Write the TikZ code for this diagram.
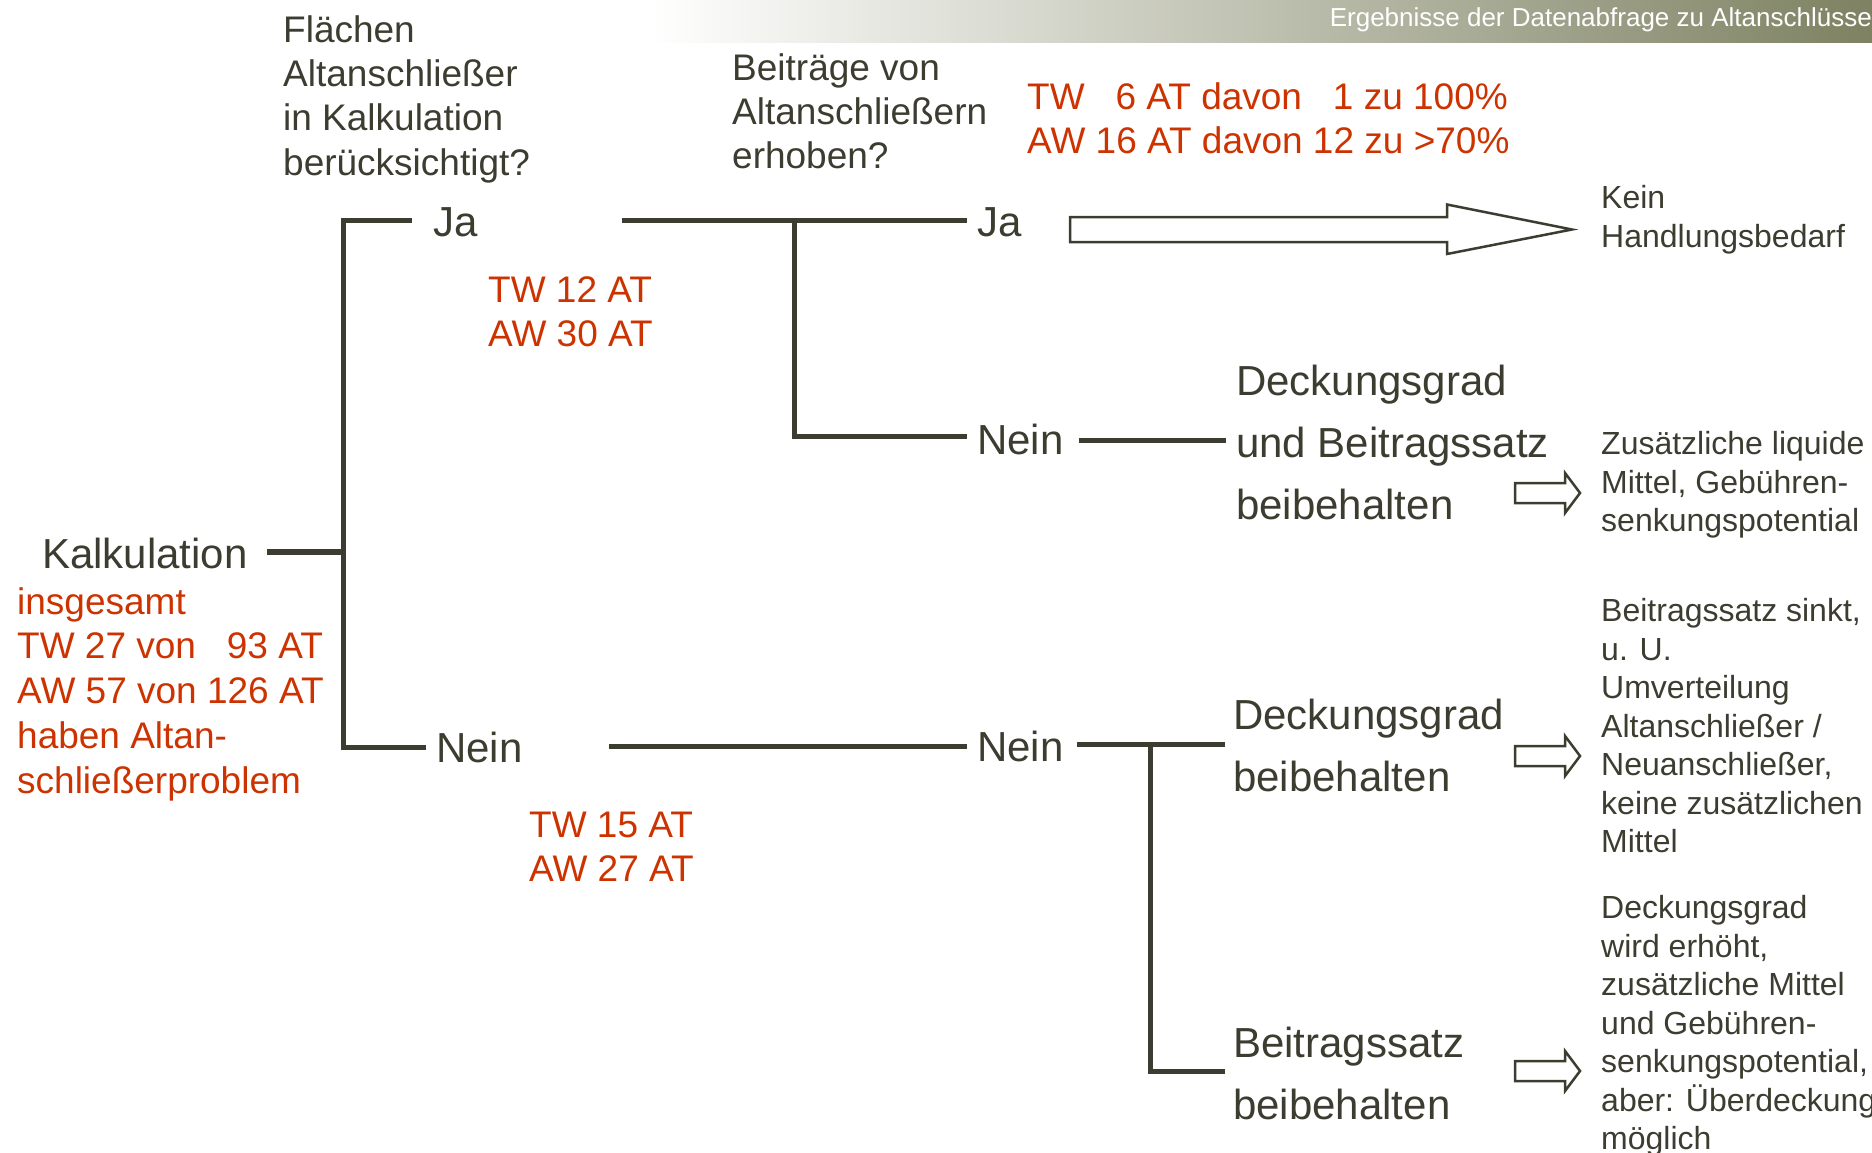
\documentclass[tikz,border=0pt]{standalone}
\usepackage{fontspec}
\setmainfont{Liberation Sans}
\definecolor{ink}{RGB}{60,60,48}
\definecolor{hot}{RGB}{204,51,0}
\definecolor{band}{RGB}{126,130,98}
\tikzset{
    txt/.style={text=ink, inner sep=0pt, align=left},
    big/.style={txt, font=\fontsize{42}{62}\selectfont},
    ask/.style={txt, font=\fontsize{37}{44.4}\selectfont},
    note/.style={txt, font=\fontsize{32}{38.5}\selectfont},
    num/.style={txt, text=hot, font=\fontsize{37}{44.5}\selectfont},
    wire/.style={draw=ink, line width=5pt},
    hollow/.style={draw=ink, line width=2.5pt, fill=white},
}
\begin{document}
\begin{tikzpicture}[x=1pt, y=-1pt]
    \useasboundingbox (0,0) rectangle (1872,1152);
    \shade[left color=white, right color=band] (650,0) rectangle (1872,42);
    \node[anchor=base east, inner sep=0pt, text=white, font=\fontsize{26}{30}\selectfont] (title) at (1872,26) {Ergebnisse der Datenabfrage zu Altanschlüsse};

    \node[ask, anchor=base west] (q1) at (283,175.2) {Flächen\\Altanschließer\\in Kalkulation\\berücksichtigt?};
    \node[ask, anchor=base west] (q2) at (732,168.8) {Beiträge von\\Altanschließern\\erhoben?};
    \node[num, anchor=base west] (share) at (1027,153.5) {TW \phantom{1}6 AT davon \phantom{1}1 zu 100\%\\AW 16 AT davon 12 zu >70\%};

    \node[big, anchor=west] (kalk) at (42,553) {Kalkulation};
    \node[num, font=\fontsize{37}{44.75}\selectfont, anchor=base west] (total) at (17,793) {insgesamt\\TW 27 von \phantom{1}93 AT\\AW 57 von 126 AT\\haben Altan-\\schließerproblem};

    \node[big, anchor=west] (ja1) at (433,222) {Ja};
    \node[big, anchor=west] (nein1) at (436,747) {Nein};
    \node[num, anchor=base west] (jaNum) at (488,346.5) {TW 12 AT\\AW 30 AT};
    \node[num, anchor=base west] (neinNum) at (529,881.5) {TW 15 AT\\AW 27 AT};

    \node[big, anchor=west] (ja2) at (977,222) {Ja};
    \node[big, anchor=west] (nein2) at (977,439) {Nein};
    \node[big, anchor=west] (nein3) at (977,746) {Nein};

    \node[big, anchor=base west] (keep1) at (1236,519) {Deckungsgrad\\und Beitragssatz\\beibehalten};
    \node[big, anchor=base west] (keep2) at (1233,791) {Deckungsgrad\\beibehalten};
    \node[big, anchor=base west] (keep3) at (1233,1119) {Beitragssatz\\beibehalten};

    \node[note, anchor=base west] (res1) at (1601,247) {Kein\\Handlungsbedarf};
    \node[note, anchor=base west] (res2) at (1601,531.5) {Zusätzliche liquide\\Mittel, Gebühren-\\senkungspotential};
    \node[note, anchor=base west] (res3) at (1601,852.5) {Beitragssatz sinkt,\\u. U.\\Umverteilung\\Altanschließer /\\Neuanschließer,\\keine zusätzlichen\\Mittel};
    \node[note, anchor=base west] (res4) at (1601,1149.5) {Deckungsgrad\\wird erhöht,\\zusätzliche Mittel\\und Gebühren-\\senkungspotential,\\aber: Überdeckung\\möglich};

    \coordinate (k0) at (267,552);
    \coordinate (k1) at (343,552);
    \coordinate (t0) at (343,220);
    \coordinate (t1) at (412,220);
    \coordinate (b0) at (343,747);
    \coordinate (b1) at (426,747);
    \coordinate (j0) at (622,220);
    \coordinate (j1) at (967,220);
    \coordinate (jv) at (794,220);
    \coordinate (jn) at (794,436);
    \coordinate (jn1) at (967,436);
    \coordinate (n0) at (609,746);
    \coordinate (n1) at (967,746);
    \coordinate (m0) at (1079,440);
    \coordinate (m1) at (1226,440);
    \coordinate (p0) at (1077,744);
    \coordinate (p1) at (1225,744);
    \coordinate (pv) at (1150,744);
    \coordinate (pv1) at (1150,1071);
    \coordinate (p2) at (1225,1071);

    \draw[wire, line width=6pt] (k0) -- (k1);
    \draw[wire] (t1) -- (t0) -- (b0) -- (b1);
    \draw[wire] (j0) -- (j1);
    \draw[wire] (jv) -- (jn) -- (jn1);
    \draw[wire] (n0) -- (n1);
    \draw[wire] (m0) -- (m1);
    \draw[wire] (p0) -- (p1);
    \draw[wire] (pv) -- (pv1) -- (p2);

    \draw[hollow] (1070,217) -- (1447,217) -- (1447,204.5) -- (1572,229.5) -- (1447,254) -- (1447,242) -- (1070,242) -- cycle;
    \foreach \y in {493,756,1071}{%
      \draw[hollow] (1515,\y-10) -- (1565,\y-10) -- (1565,\y-20) -- (1580,\y) -- (1565,\y+20) -- (1565,\y+10) -- (1515,\y+10) -- cycle;
    }
\end{tikzpicture}
\end{document}
